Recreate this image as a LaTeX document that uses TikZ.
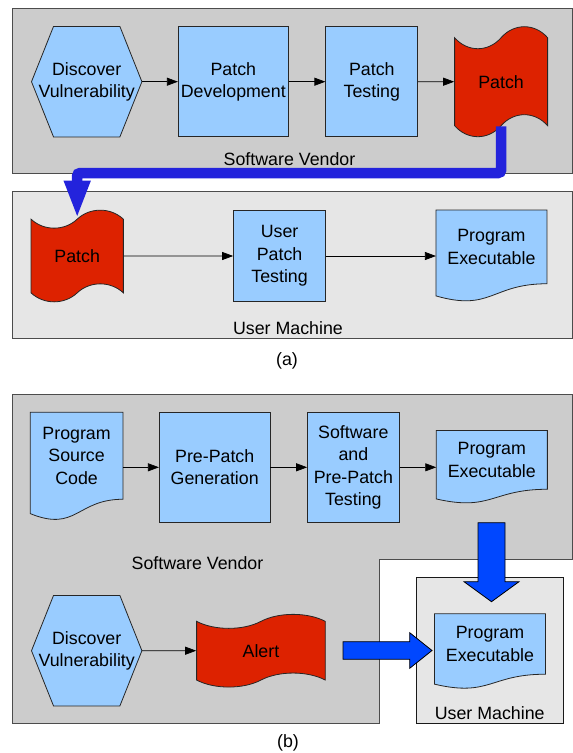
\documentclass[tikz,border=0pt]{standalone}
\usepackage{fontspec}
\setmainfont{Liberation Sans}
\usetikzlibrary{shapes.symbols,arrows.meta,positioning,calc}
\pgfdeclarelayer{back}
\pgfdeclarelayer{outline}
\pgfsetlayers{back,outline,main}

\definecolor{boxblue}{HTML}{99CCFF}
\definecolor{patchred}{HTML}{DD2200}
\definecolor{vendorgray}{HTML}{CCCCCC}
\definecolor{usergray}{HTML}{E6E6E6}
\definecolor{handoffblue}{HTML}{2323DC}
\definecolor{pushblue}{HTML}{0047FF}

\tikzset{
block/.style={rectangle, draw=black!85, fill=boxblue, line width=0.8pt, align=center, inner sep=0pt},
hexbox/.style={rectangle, align=center, inner sep=0pt, minimum width=110pt, minimum height=110pt},
docbox/.style={rectangle, align=center, inner sep=0pt},
tapebox/.style={tape, draw=black!85, fill=patchred, line width=0.8pt, align=center, inner sep=0pt},
region/.style={draw=black!70, line width=0.8pt},
line/.style={draw, line width=0.7pt, -{Triangle[length=11pt,width=8pt]}},
handoff/.style={draw=handoffblue, line width=10.5pt, rounded corners=3pt, -{Triangle[length=38pt,width=24pt]}},
push/.style={fill=pushblue, draw=black, line width=0.8pt}
}

\newcommand{\hexoutline}[1]{%
  \filldraw[fill=boxblue, draw=black!85, line width=0.8pt]
    ([xshift=22pt]#1.north west) -- ([xshift=-22pt]#1.north east) -- (#1.east)
    -- ([xshift=-22pt]#1.south east) -- ([xshift=22pt]#1.south west) -- (#1.west) -- cycle;}
\newcommand{\docoutline}[1]{%
  \filldraw[fill=boxblue, draw=black!85, line width=0.8pt]
    (#1.north west) -- (#1.north east) -- (#1.south east)
    .. controls (#1.south) and ($(#1.south)!-0.381!(#1.north)$)
    .. ($(#1.south west)!-0.165!(#1.north west)$) -- cycle;}

\begin{document}
\begin{tikzpicture}[x=1pt, y=-1pt, font=\fontsize{17.8pt}{22.5pt}\selectfont]
    \useasboundingbox (0,0) rectangle (573,753);
    % Place nodes (a)
    \node [hexbox] (discA) at (86.7,81.7) {Discover\\Vulnerability};
    \node [block, minimum width=110pt, minimum height=110pt, right=36pt of discA] (devA) {Patch\\Development};
    \node [block, minimum width=92pt, minimum height=110pt, right=36.7pt of devA] (testA) {Patch\\Testing};
    \node [tapebox, tape bend height=22pt, minimum width=93pt, minimum height=110pt, right=36pt of testA] (patchA) {Patch};
    \node [tapebox, tape bend height=18pt, minimum width=92.3pt, minimum height=91.7pt] (patchB) at (77.2,256) {Patch};
    \node [block, minimum width=92pt, minimum height=91.7pt, right=109.4pt of patchB] (testU) {User\\Patch\\Testing};
    \node [docbox, minimum width=110.6pt, minimum height=73.3pt, right=110pt of testU, yshift=9.1pt] (exeA) {Program\\Executable};
    % Place nodes (b)
    \node [block, minimum width=110.7pt, minimum height=110pt] (genB) at (214.7,467.3) {Pre-Patch\\Generation};
    \node [docbox, minimum width=92.3pt, minimum height=86.7pt, left=36pt of genB, yshift=11.6pt] (srcB) {Program\\Source\\Code};
    \node [block, minimum width=91.6pt, minimum height=110pt, right=36.7pt of genB] (testB) {Software\\and\\Pre-Patch\\Testing};
    \node [docbox, minimum width=110.7pt, minimum height=58.3pt, right=36.7pt of testB, yshift=7.4pt] (exeB) {Program\\Executable};
    \node [hexbox] (discB) at (86.7,650.7) {Discover\\Vulnerability};
    \node [tapebox, tape bend height=14pt, minimum width=128.7pt, minimum height=72.7pt, right=54.3pt of discB] (alertB) {Alert};
    \node [docbox, minimum width=110.6pt, minimum height=60pt] (exeC) at (490,644) {Program\\Executable};
    % Region labels
    \node (venA) at (289.5,159) {Software Vendor};
    \node (userA) at (288,328.5) {User Machine};
    \node (capA) at (287,361) {(a)};
    \node (venB) at (197.5,562.7) {Software Vendor};
    \node (userB) at (489.7,713.3) {User Machine};
    \node (capB) at (288,743) {(b)};
    % Regions and shape outlines
    \begin{pgfonlayer}{back}
    \filldraw [region, fill=vendorgray] (12.7,8.3) rectangle (572,173.3);
    \filldraw [region, fill=usergray] (12.7,191.7) rectangle (572,338.3);
    \filldraw [region, fill=vendorgray] (12.7,394) -- (572,394) -- (572,559) -- (379.7,559) -- (379.7,723.3) -- (12.7,723.3) -- cycle;
    \filldraw [region, draw=black!90, fill=usergray] (416.3,577.3) rectangle (563.7,723.3);
    \end{pgfonlayer}
    \begin{pgfonlayer}{outline}
    \hexoutline{discA}
    \hexoutline{discB}
    \docoutline{exeA}
    \docoutline{srcB}
    \docoutline{exeB}
    \docoutline{exeC}
    \end{pgfonlayer}
    % Draw edges
    \path [line] (discA) -- (devA);
    \path [line] (devA) -- (testA);
    \path [line] (testA) -- (patchA);
    \path [line] (patchB) -- (testU);
    \path [line] (testU.east) -- (testU.east -| exeA.west);
    \path [line] (genB.west -| srcB.east) -- (genB.west);
    \path [line] (genB) -- (testB);
    \path [line] (testB.east) -- (testB.east -| exeB.west);
    \path [line] (discB) -- (alertB);
    % Big arrows
    \coordinate (handoff) at (288,173);
    \draw [handoff] (patchA.south) |- (handoff) -| (patchB.north);
    \coordinate (pushFrom) at (491.5,522.7);
    \coordinate (pushTo) at (491.5,601.7);
    \filldraw [push] ($(pushFrom)+(-13.5,0)$) -- ($(pushTo)+(-13.5,-20)$) -- ($(pushTo)+(-27.5,-20)$) -- (pushTo)
        -- ($(pushTo)+(27.5,-20)$) -- ($(pushTo)+(13.5,-20)$) -- ($(pushFrom)+(13.5,0)$) -- cycle;
    \coordinate (alertFrom) at (343,650.5);
    \coordinate (alertTo) at (432,650.5);
    \filldraw [push] ($(alertFrom)+(0,-8.8)$) -- ($(alertTo)+(-22.3,-8.8)$) -- ($(alertTo)+(-22.3,-17.8)$) -- (alertTo)
        -- ($(alertTo)+(-22.3,17.8)$) -- ($(alertTo)+(-22.3,8.8)$) -- ($(alertFrom)+(0,8.8)$) -- cycle;
\end{tikzpicture}
\end{document}
